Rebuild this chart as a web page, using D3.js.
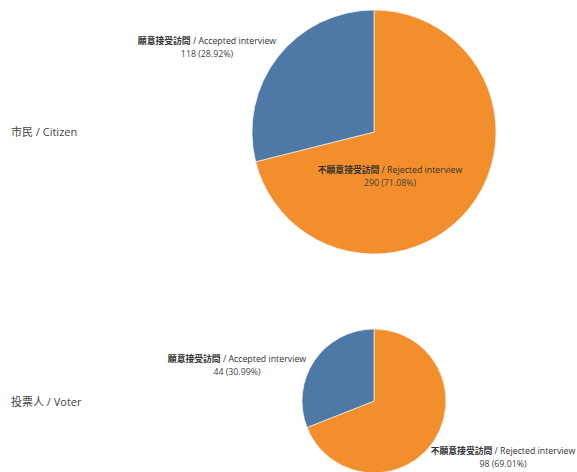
<!DOCTYPE html>
<html>
<head>
<meta charset="utf-8">
<script src="https://cdn.jsdelivr.net/npm/d3@7"></script>
<style>
  html, body { margin: 0; padding: 0; background: #fff; }
  svg { display: block; }
</style>
</head>
<body>
<svg id="chart" width="577" height="472"></svg>
<script>
// ---- data ----
const rows = ["市民 / Citizen", "投票人 / Voter"];
const categories = ["Rejected", "Accepted"];
const categoryZh = ["不願意接受訪問", "願意接受訪問"];
const categoryEn = ["Rejected interview", "Accepted interview"];
const citizenValues = [290, 118];
const voterValues = [98, 44];
const citizenPct = ["71.08%", "28.92%"];
const voterPct = ["69.01%", "30.99%"];

// ---- layout ----
const layout = [
  { cy: 132, labelY: 133, labels: [[16, 41], [-167, -88]] },
  { cy: 401, labelY: 403, labels: [[129, 53], [-137, -39]] }
];
const cx = 374;
const maxR = 122;

const svg = d3.select("#chart");
const color = d3.scaleOrdinal().domain(categories).range(["#f28e2b", "#4e79a7"]);
const datasets = [citizenValues, voterValues];
const pcts = [citizenPct, voterPct];
const maxTotal = d3.max(datasets, d => d3.sum(d));
const rScale = d3.scaleSqrt().domain([0, maxTotal]).range([0, maxR]);

const pie = d3.pie().sort(null).value(d => d.value);

datasets.forEach((vals, i) => {
  const L = layout[i];
  const total = d3.sum(vals);
  const r = rScale(total);
  const data = vals.map((v, j) => ({ cat: categories[j], value: v, j }));
  const g = svg.append("g").attr("transform", `translate(${cx},${L.cy})`);
  const arc = d3.arc().innerRadius(0).outerRadius(r);
  g.selectAll("path").data(pie(data)).join("path")
    .attr("d", arc)
    .attr("fill", d => color(d.data.cat))
    .attr("stroke", "#fff")
    .attr("stroke-width", 0.6);

  // slice labels
  data.forEach((d, j) => {
    const [dx, dy] = L.labels[j];
    const t = g.append("text")
      .attr("x", dx).attr("y", dy)
      .attr("text-anchor", "middle")
      .attr("font-size", 8.8)
      .attr("fill", "#333")
      .attr("font-family", "'Open Sans', 'Noto Sans CJK TC', sans-serif");
    t.append("tspan")
      .attr("font-family", "'Noto Sans CJK TC', sans-serif")
      .attr("font-weight", "bold")
      .text(categoryZh[j]);
    t.append("tspan").text(" / " + categoryEn[j]);
    g.append("text")
      .attr("x", dx).attr("y", dy + 12.5)
      .attr("text-anchor", "middle")
      .attr("font-size", 8.8)
      .attr("fill", "#444")
      .attr("font-family", "'Open Sans', sans-serif")
      .text(`${d.value} (${pcts[i][j]})`);
  });

  // row label
  svg.append("text")
    .attr("x", 11).attr("y", L.labelY)
    .attr("dominant-baseline", "middle")
    .attr("font-size", 11)
    .attr("fill", "#444")
    .attr("font-family", "'Open Sans', 'Noto Sans CJK TC', sans-serif")
    .text(rows[i]);
});
</script>
</body>
</html>
